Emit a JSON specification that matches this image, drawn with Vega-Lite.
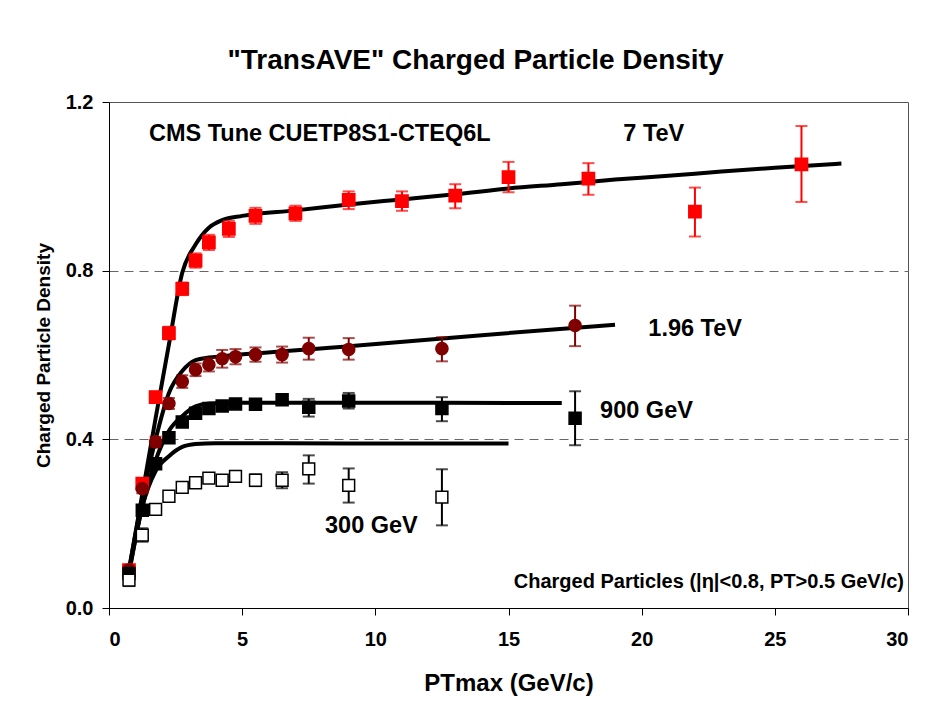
{
  "$schema": "https://vega.github.io/schema/vega-lite/v6.json",
  "width": 799,
  "height": 506,
  "autosize": {"type": "none"},
  "padding": {"left": 109, "top": 102, "right": 38, "bottom": 112},
  "background": "white",
  "title": {
    "text": "\"TransAVE\" Charged Particle Density",
    "fontSize": 28,
    "font": "Liberation Sans",
    "fontWeight": "bold",
    "color": "black",
    "anchor": "middle",
    "dx": -33,
    "offset": 17
  },
  "config": {
    "font": "Liberation Sans",
    "view": {"stroke": "#555555", "strokeWidth": 1},
    "axis": {
      "labelFont": "Liberation Sans",
      "labelFontWeight": "bold",
      "labelFontSize": 20,
      "labelColor": "black",
      "titleFont": "Liberation Sans",
      "titleFontWeight": "bold",
      "titleColor": "black",
      "domainColor": "black",
      "tickColor": "black",
      "tickSize": 7
    }
  },
  "datasets": {
    "obs": [
      {"series": "7 TeV", "x": 0.75, "y": 0.09, "lo": 0.078, "hi": 0.102},
      {"series": "7 TeV", "x": 1.25, "y": 0.295, "lo": 0.283, "hi": 0.307},
      {"series": "7 TeV", "x": 1.75, "y": 0.5, "lo": 0.487, "hi": 0.513},
      {"series": "7 TeV", "x": 2.25, "y": 0.652, "lo": 0.637, "hi": 0.667},
      {"series": "7 TeV", "x": 2.75, "y": 0.757, "lo": 0.742, "hi": 0.772},
      {"series": "7 TeV", "x": 3.25, "y": 0.824, "lo": 0.807, "hi": 0.841},
      {"series": "7 TeV", "x": 3.75, "y": 0.867, "lo": 0.849, "hi": 0.885},
      {"series": "7 TeV", "x": 4.5, "y": 0.899, "lo": 0.88, "hi": 0.918},
      {"series": "7 TeV", "x": 5.5, "y": 0.93, "lo": 0.911, "hi": 0.949},
      {"series": "7 TeV", "x": 7.0, "y": 0.936, "lo": 0.918, "hi": 0.954},
      {"series": "7 TeV", "x": 9.0, "y": 0.968, "lo": 0.946, "hi": 0.988},
      {"series": "7 TeV", "x": 11.0, "y": 0.965, "lo": 0.942, "hi": 0.988},
      {"series": "7 TeV", "x": 13.0, "y": 0.978, "lo": 0.948, "hi": 1.005},
      {"series": "7 TeV", "x": 15.0, "y": 1.022, "lo": 0.986, "hi": 1.058},
      {"series": "7 TeV", "x": 18.0, "y": 1.018, "lo": 0.98, "hi": 1.055},
      {"series": "7 TeV", "x": 22.0, "y": 0.94, "lo": 0.881, "hi": 0.997},
      {"series": "7 TeV", "x": 26.0, "y": 1.052, "lo": 0.963, "hi": 1.143},
      {"series": "1.96 TeV", "x": 0.75, "y": 0.09, "lo": 0.08, "hi": 0.1},
      {"series": "1.96 TeV", "x": 1.25, "y": 0.283, "lo": 0.272, "hi": 0.294},
      {"series": "1.96 TeV", "x": 1.75, "y": 0.394, "lo": 0.382, "hi": 0.406},
      {"series": "1.96 TeV", "x": 2.25, "y": 0.485, "lo": 0.472, "hi": 0.498},
      {"series": "1.96 TeV", "x": 2.75, "y": 0.537, "lo": 0.522, "hi": 0.552},
      {"series": "1.96 TeV", "x": 3.25, "y": 0.565, "lo": 0.55, "hi": 0.58},
      {"series": "1.96 TeV", "x": 3.75, "y": 0.577, "lo": 0.561, "hi": 0.593},
      {"series": "1.96 TeV", "x": 4.25, "y": 0.591, "lo": 0.57, "hi": 0.612},
      {"series": "1.96 TeV", "x": 4.75, "y": 0.596, "lo": 0.578, "hi": 0.614},
      {"series": "1.96 TeV", "x": 5.5, "y": 0.601, "lo": 0.584, "hi": 0.618},
      {"series": "1.96 TeV", "x": 6.5, "y": 0.601, "lo": 0.582, "hi": 0.62},
      {"series": "1.96 TeV", "x": 7.5, "y": 0.615, "lo": 0.589, "hi": 0.641},
      {"series": "1.96 TeV", "x": 9.0, "y": 0.613, "lo": 0.589, "hi": 0.64},
      {"series": "1.96 TeV", "x": 12.5, "y": 0.615, "lo": 0.585, "hi": 0.642},
      {"series": "1.96 TeV", "x": 17.5, "y": 0.67, "lo": 0.621, "hi": 0.717},
      {"series": "900 GeV", "x": 0.75, "y": 0.082, "lo": 0.074, "hi": 0.09},
      {"series": "900 GeV", "x": 1.25, "y": 0.232, "lo": 0.224, "hi": 0.24},
      {"series": "900 GeV", "x": 1.75, "y": 0.342, "lo": 0.334, "hi": 0.35},
      {"series": "900 GeV", "x": 2.25, "y": 0.404, "lo": 0.396, "hi": 0.412},
      {"series": "900 GeV", "x": 2.75, "y": 0.441, "lo": 0.432, "hi": 0.45},
      {"series": "900 GeV", "x": 3.25, "y": 0.462, "lo": 0.453, "hi": 0.471},
      {"series": "900 GeV", "x": 3.75, "y": 0.473, "lo": 0.464, "hi": 0.482},
      {"series": "900 GeV", "x": 4.25, "y": 0.479, "lo": 0.47, "hi": 0.488},
      {"series": "900 GeV", "x": 4.75, "y": 0.484, "lo": 0.475, "hi": 0.493},
      {"series": "900 GeV", "x": 5.5, "y": 0.483, "lo": 0.473, "hi": 0.493},
      {"series": "900 GeV", "x": 6.5, "y": 0.494, "lo": 0.483, "hi": 0.505},
      {"series": "900 GeV", "x": 7.5, "y": 0.476, "lo": 0.454, "hi": 0.496},
      {"series": "900 GeV", "x": 9.0, "y": 0.491, "lo": 0.473, "hi": 0.51},
      {"series": "900 GeV", "x": 12.5, "y": 0.473, "lo": 0.443, "hi": 0.5},
      {"series": "900 GeV", "x": 17.5, "y": 0.45, "lo": 0.386, "hi": 0.514},
      {"series": "300 GeV", "x": 0.75, "y": 0.066, "lo": 0.052, "hi": 0.08},
      {"series": "300 GeV", "x": 1.25, "y": 0.173, "lo": 0.157, "hi": 0.189},
      {"series": "300 GeV", "x": 1.75, "y": 0.234, "lo": 0.222, "hi": 0.246},
      {"series": "300 GeV", "x": 2.25, "y": 0.265, "lo": 0.254, "hi": 0.276},
      {"series": "300 GeV", "x": 2.75, "y": 0.286, "lo": 0.276, "hi": 0.296},
      {"series": "300 GeV", "x": 3.25, "y": 0.297, "lo": 0.287, "hi": 0.307},
      {"series": "300 GeV", "x": 3.75, "y": 0.308, "lo": 0.297, "hi": 0.319},
      {"series": "300 GeV", "x": 4.25, "y": 0.303, "lo": 0.292, "hi": 0.314},
      {"series": "300 GeV", "x": 4.75, "y": 0.312, "lo": 0.299, "hi": 0.325},
      {"series": "300 GeV", "x": 5.5, "y": 0.303, "lo": 0.289, "hi": 0.317},
      {"series": "300 GeV", "x": 6.5, "y": 0.303, "lo": 0.284, "hi": 0.322},
      {"series": "300 GeV", "x": 7.5, "y": 0.33, "lo": 0.295, "hi": 0.362},
      {"series": "300 GeV", "x": 9.0, "y": 0.291, "lo": 0.25, "hi": 0.331},
      {"series": "300 GeV", "x": 12.5, "y": 0.263, "lo": 0.196, "hi": 0.329}
    ],
    "model": [
      {"series": "7 TeV", "x": 0.75, "y": 0.09},
      {"series": "7 TeV", "x": 1.25, "y": 0.27},
      {"series": "7 TeV", "x": 1.75, "y": 0.45},
      {"series": "7 TeV", "x": 2.25, "y": 0.625},
      {"series": "7 TeV", "x": 2.75, "y": 0.795},
      {"series": "7 TeV", "x": 3.25, "y": 0.862},
      {"series": "7 TeV", "x": 3.75, "y": 0.902},
      {"series": "7 TeV", "x": 4.25, "y": 0.92},
      {"series": "7 TeV", "x": 5.0, "y": 0.93},
      {"series": "7 TeV", "x": 7.0, "y": 0.943},
      {"series": "7 TeV", "x": 9.0, "y": 0.957},
      {"series": "7 TeV", "x": 11.0, "y": 0.969},
      {"series": "7 TeV", "x": 13.0, "y": 0.981},
      {"series": "7 TeV", "x": 15.0, "y": 0.995},
      {"series": "7 TeV", "x": 17.0, "y": 1.005},
      {"series": "7 TeV", "x": 19.0, "y": 1.016},
      {"series": "7 TeV", "x": 21.0, "y": 1.025},
      {"series": "7 TeV", "x": 23.0, "y": 1.035},
      {"series": "7 TeV", "x": 25.0, "y": 1.044},
      {"series": "7 TeV", "x": 27.5, "y": 1.054},
      {"series": "1.96 TeV", "x": 0.75, "y": 0.09},
      {"series": "1.96 TeV", "x": 1.25, "y": 0.26},
      {"series": "1.96 TeV", "x": 1.75, "y": 0.4},
      {"series": "1.96 TeV", "x": 2.25, "y": 0.51},
      {"series": "1.96 TeV", "x": 2.75, "y": 0.562},
      {"series": "1.96 TeV", "x": 3.25, "y": 0.588},
      {"series": "1.96 TeV", "x": 3.75, "y": 0.594},
      {"series": "1.96 TeV", "x": 4.25, "y": 0.597},
      {"series": "1.96 TeV", "x": 9.0, "y": 0.621},
      {"series": "1.96 TeV", "x": 14.0, "y": 0.647},
      {"series": "1.96 TeV", "x": 19.0, "y": 0.672},
      {"series": "900 GeV", "x": 0.75, "y": 0.085},
      {"series": "900 GeV", "x": 1.25, "y": 0.24},
      {"series": "900 GeV", "x": 1.75, "y": 0.35},
      {"series": "900 GeV", "x": 2.25, "y": 0.42},
      {"series": "900 GeV", "x": 2.75, "y": 0.455},
      {"series": "900 GeV", "x": 3.25, "y": 0.478},
      {"series": "900 GeV", "x": 3.75, "y": 0.485},
      {"series": "900 GeV", "x": 5.0, "y": 0.487},
      {"series": "900 GeV", "x": 10.0, "y": 0.487},
      {"series": "900 GeV", "x": 17.0, "y": 0.486},
      {"series": "300 GeV", "x": 0.75, "y": 0.08},
      {"series": "300 GeV", "x": 1.25, "y": 0.24},
      {"series": "300 GeV", "x": 1.75, "y": 0.325},
      {"series": "300 GeV", "x": 2.25, "y": 0.36},
      {"series": "300 GeV", "x": 2.75, "y": 0.382},
      {"series": "300 GeV", "x": 3.25, "y": 0.389},
      {"series": "300 GeV", "x": 4.0, "y": 0.391},
      {"series": "300 GeV", "x": 9.0, "y": 0.39},
      {"series": "300 GeV", "x": 15.0, "y": 0.39}
    ],
    "labels": [
      {"text": "CMS Tune CUETP8S1-CTEQ6L", "x": 1.5, "y": 1.1085},
      {"text": "7 TeV", "x": 19.31, "y": 1.1085},
      {"text": "1.96 TeV", "x": 20.25, "y": 0.646},
      {"text": "900 GeV", "x": 18.44, "y": 0.4505},
      {"text": "300 GeV", "x": 8.11, "y": 0.179}
    ],
    "note": [
      {"text": "Charged Particles (|η|<0.8, PT>0.5 GeV/c)", "x": 29.85, "y": 0.048}
    ]
  },
  "layer": [
    {
      "data": {"name": "model"},
      "mark": {"type": "line", "color": "black", "strokeWidth": 4, "interpolate": "monotone"},
      "encoding": {
        "x": {"field": "x", "type": "quantitative", "scale": {"domain": [0, 30], "nice": false},
          "axis": {"values": [0, 5, 10, 15, 20, 25, 30], "title": "PTmax  (GeV/c)", "titleFontSize": 24, "labelPadding": 14, "titlePadding": 22, "grid": false}},
        "y": {"field": "y", "type": "quantitative", "scale": {"domain": [0, 1.2], "nice": false},
          "axis": {"values": [0, 0.4, 0.8, 1.2], "format": ".1f", "title": "Charged Particle Density", "titleFontSize": 19, "labelPadding": 9, "titlePadding": 12,
            "grid": true, "gridColor": "#666666", "gridDash": [9, 6], "gridWidth": 1,
            "gridOpacity": {"condition": {"test": "datum.value > 0.2 && datum.value < 1.0", "value": 1}, "value": 0}}},
        "detail": {"field": "series"}
      }
    },
    {
      "data": {"name": "obs"},
      "mark": {"type": "rule", "strokeWidth": 2},
      "encoding": {
        "x": {"field": "x", "type": "quantitative"},
        "y": {"field": "lo", "type": "quantitative"},
        "y2": {"field": "hi"},
        "color": {"field": "series", "type": "nominal", "legend": null,
          "scale": {"domain": ["7 TeV", "1.96 TeV", "900 GeV", "300 GeV"], "range": ["#ff0000", "#800000", "#000000", "#000000"]}}
      }
    },
    {
      "data": {"name": "obs"},
      "mark": {"type": "tick", "orient": "horizontal", "size": 12, "thickness": 2},
      "encoding": {
        "x": {"field": "x", "type": "quantitative"},
        "y": {"field": "lo", "type": "quantitative"},
        "color": {"field": "series", "type": "nominal", "legend": null}
      }
    },
    {
      "data": {"name": "obs"},
      "mark": {"type": "tick", "orient": "horizontal", "size": 12, "thickness": 2},
      "encoding": {
        "x": {"field": "x", "type": "quantitative"},
        "y": {"field": "hi", "type": "quantitative"},
        "color": {"field": "series", "type": "nominal", "legend": null}
      }
    },
    {
      "data": {"name": "obs"},
      "mark": {"type": "point", "opacity": 1, "strokeWidth": 1.5},
      "encoding": {
        "x": {"field": "x", "type": "quantitative"},
        "y": {"field": "y", "type": "quantitative"},
        "shape": {"field": "series", "type": "nominal", "legend": null,
          "scale": {"domain": ["7 TeV", "1.96 TeV", "900 GeV", "300 GeV"], "range": ["square", "circle", "square", "square"]}},
        "fill": {"field": "series", "type": "nominal", "legend": null,
          "scale": {"domain": ["7 TeV", "1.96 TeV", "900 GeV", "300 GeV"], "range": ["#ff0000", "#800000", "#000000", "#ffffff"]}},
        "stroke": {"field": "series", "type": "nominal", "legend": null,
          "scale": {"domain": ["7 TeV", "1.96 TeV", "900 GeV", "300 GeV"], "range": ["#ff0000", "#800000", "#000000", "#000000"]}},
        "size": {"field": "series", "type": "nominal", "legend": null,
          "scale": {"domain": ["7 TeV", "1.96 TeV", "900 GeV", "300 GeV"], "range": [150, 140, 120, 70]}}
      }
    },
    {
      "data": {"name": "labels"},
      "mark": {"type": "text", "align": "left", "baseline": "alphabetic", "fontSize": 23.5, "fontWeight": "bold", "font": "Liberation Sans", "color": "black"},
      "encoding": {
        "x": {"field": "x", "type": "quantitative"},
        "y": {"field": "y", "type": "quantitative"},
        "text": {"field": "text"}
      }
    },
    {
      "data": {"name": "note"},
      "mark": {"type": "text", "align": "right", "baseline": "alphabetic", "fontSize": 20, "fontWeight": "bold", "font": "Liberation Sans", "color": "black"},
      "encoding": {
        "x": {"field": "x", "type": "quantitative"},
        "y": {"field": "y", "type": "quantitative"},
        "text": {"field": "text"}
      }
    }
  ],
  "resolve": {"scale": {"color": "shared"}}
}
